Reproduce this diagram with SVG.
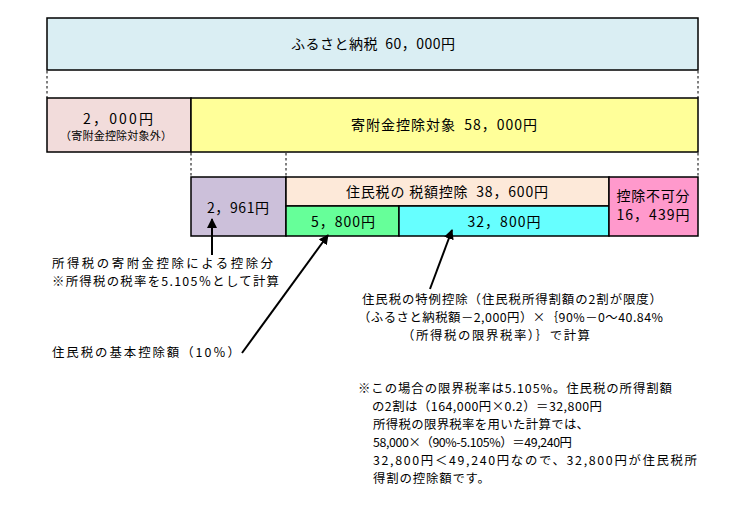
<svg xmlns="http://www.w3.org/2000/svg" width="749" height="521" viewBox="0 0 749 521">
<defs>
<style>
text{font-family:"MS PGothic","Noto Sans CJK JP","Noto Sans",sans-serif;font-size:14px;fill:#000}
.c{text-anchor:middle}
.s{font-size:11px}
.l{font-size:12.4px}
.box{stroke:#000;stroke-width:1.5}
.dash{stroke:#000;stroke-width:1;stroke-dasharray:2.5,2.5;fill:none}
.arr{stroke:#000;stroke-width:2;fill:none;marker-end:url(#ah)}
</style>
<marker id="ah" viewBox="0 0 10 10" refX="9" refY="5" markerWidth="5" markerHeight="5" orient="auto" markerUnits="strokeWidth">
<path d="M0,0 L10,5 L0,10 z" fill="#000"/>
</marker>
</defs>
<rect width="749" height="521" fill="#fff"/>
<g id="dashes">
<line class="dash" x1="47" y1="71" x2="47" y2="98"/>
<line class="dash" x1="698" y1="71" x2="698" y2="98"/>
<line class="dash" x1="191" y1="153" x2="191" y2="177"/>
<line class="dash" x1="286" y1="153" x2="286" y2="177"/>
<line class="dash" x1="698" y1="153" x2="698" y2="177"/>
</g>
<g id="n-total">
<rect class="box" x="47" y="18" width="651" height="52" fill="#DAEEF3"/>
<text class="c" x="373" y="49" xml:space="preserve" textLength="164" lengthAdjust="spacing">ふるさと納税  60，000円</text>
</g>
<g id="n-excluded">
<rect class="box" x="47" y="98" width="144" height="54" fill="#F2DCDB"/>
<text class="c" x="118" y="124" textLength="70" lengthAdjust="spacing">2，000円</text>
<text class="c s" x="116" y="140" textLength="112" lengthAdjust="spacing">（寄附金控除対象外）</text>
</g>
<g id="n-target">
<rect class="box" x="191" y="98" width="507" height="54" fill="#FFFF99"/>
<text class="c" x="444" y="130" xml:space="preserve" textLength="186" lengthAdjust="spacing">寄附金控除対象  58，000円</text>
</g>
<g id="n-income">
<rect class="box" x="191" y="177" width="95" height="59" fill="#CCC0DA"/>
<text class="c" x="238" y="213" textLength="62" lengthAdjust="spacing">2，961円</text>
</g>
<g id="n-resident">
<rect class="box" x="286" y="177" width="323" height="29" fill="#FDE9D9"/>
<text class="c" x="447" y="197" xml:space="preserve" textLength="202" lengthAdjust="spacing">住民税の 税額控除  38，600円</text>
</g>
<g id="n-basic">
<rect class="box" x="286" y="206" width="113" height="30" fill="#66FF99"/>
<text class="c" x="343" y="227" textLength="64" lengthAdjust="spacing">5，800円</text>
</g>
<g id="n-special">
<rect class="box" x="399" y="206" width="210" height="30" fill="#66FFFF"/>
<text class="c" x="504" y="227" textLength="73" lengthAdjust="spacing">32，800円</text>
</g>
<g id="n-nondeduct">
<rect class="box" x="609" y="177" width="89" height="59" fill="#FF99CC"/>
<text class="c" x="653" y="201" textLength="73" lengthAdjust="spacing">控除不可分</text>
<text class="c" x="653" y="220" textLength="73" lengthAdjust="spacing">16，439円</text>
</g>
<g id="connectors">
<line class="arr" x1="212" y1="255" x2="212" y2="219"/>
<line class="arr" x1="242" y1="353" x2="328" y2="235"/>
<line class="arr" x1="430" y1="289" x2="452" y2="230"/>
</g>
<g id="labels">
<text class="l" x="52" y="268" textLength="221" lengthAdjust="spacing">所得税の寄附金控除による控除分</text>
<text class="l" x="52" y="286" textLength="227" lengthAdjust="spacing">※所得税の税率を5.105％として計算</text>
<text class="l" x="52" y="357" textLength="188" lengthAdjust="spacing">住民税の基本控除額（10％）</text>
<text class="l" x="362" y="304" textLength="300" lengthAdjust="spacing">住民税の特例控除（住民税所得割額の2割が限度）</text>
<text class="l" x="358" y="322" textLength="305" lengthAdjust="spacing">（ふるさと納税額－2,000円）×｛90%－0～40.84%</text>
<text class="l" x="402" y="340" textLength="188" lengthAdjust="spacing">（所得税の限界税率）｝で計算</text>
<text class="l" x="358" y="393" textLength="314" lengthAdjust="spacing">※この場合の限界税率は5.105%。住民税の所得割額</text>
<text class="l" x="372" y="411" textLength="230" lengthAdjust="spacing">の2割は（164,000円×0.2）＝32,800円</text>
<text class="l" x="373" y="429" textLength="216" lengthAdjust="spacing">所得税の限界税率を用いた計算では、</text>
<text class="l" x="373" y="447" textLength="199" lengthAdjust="spacing">58,000×（90%-5.105%）＝49,240円</text>
<text class="l" x="373" y="465" textLength="324" lengthAdjust="spacing">32,800円＜49,240円なので、32,800円が住民税所</text>
<text class="l" x="373" y="483" textLength="117" lengthAdjust="spacing">得割の控除額です。</text>
</g>
</svg>
